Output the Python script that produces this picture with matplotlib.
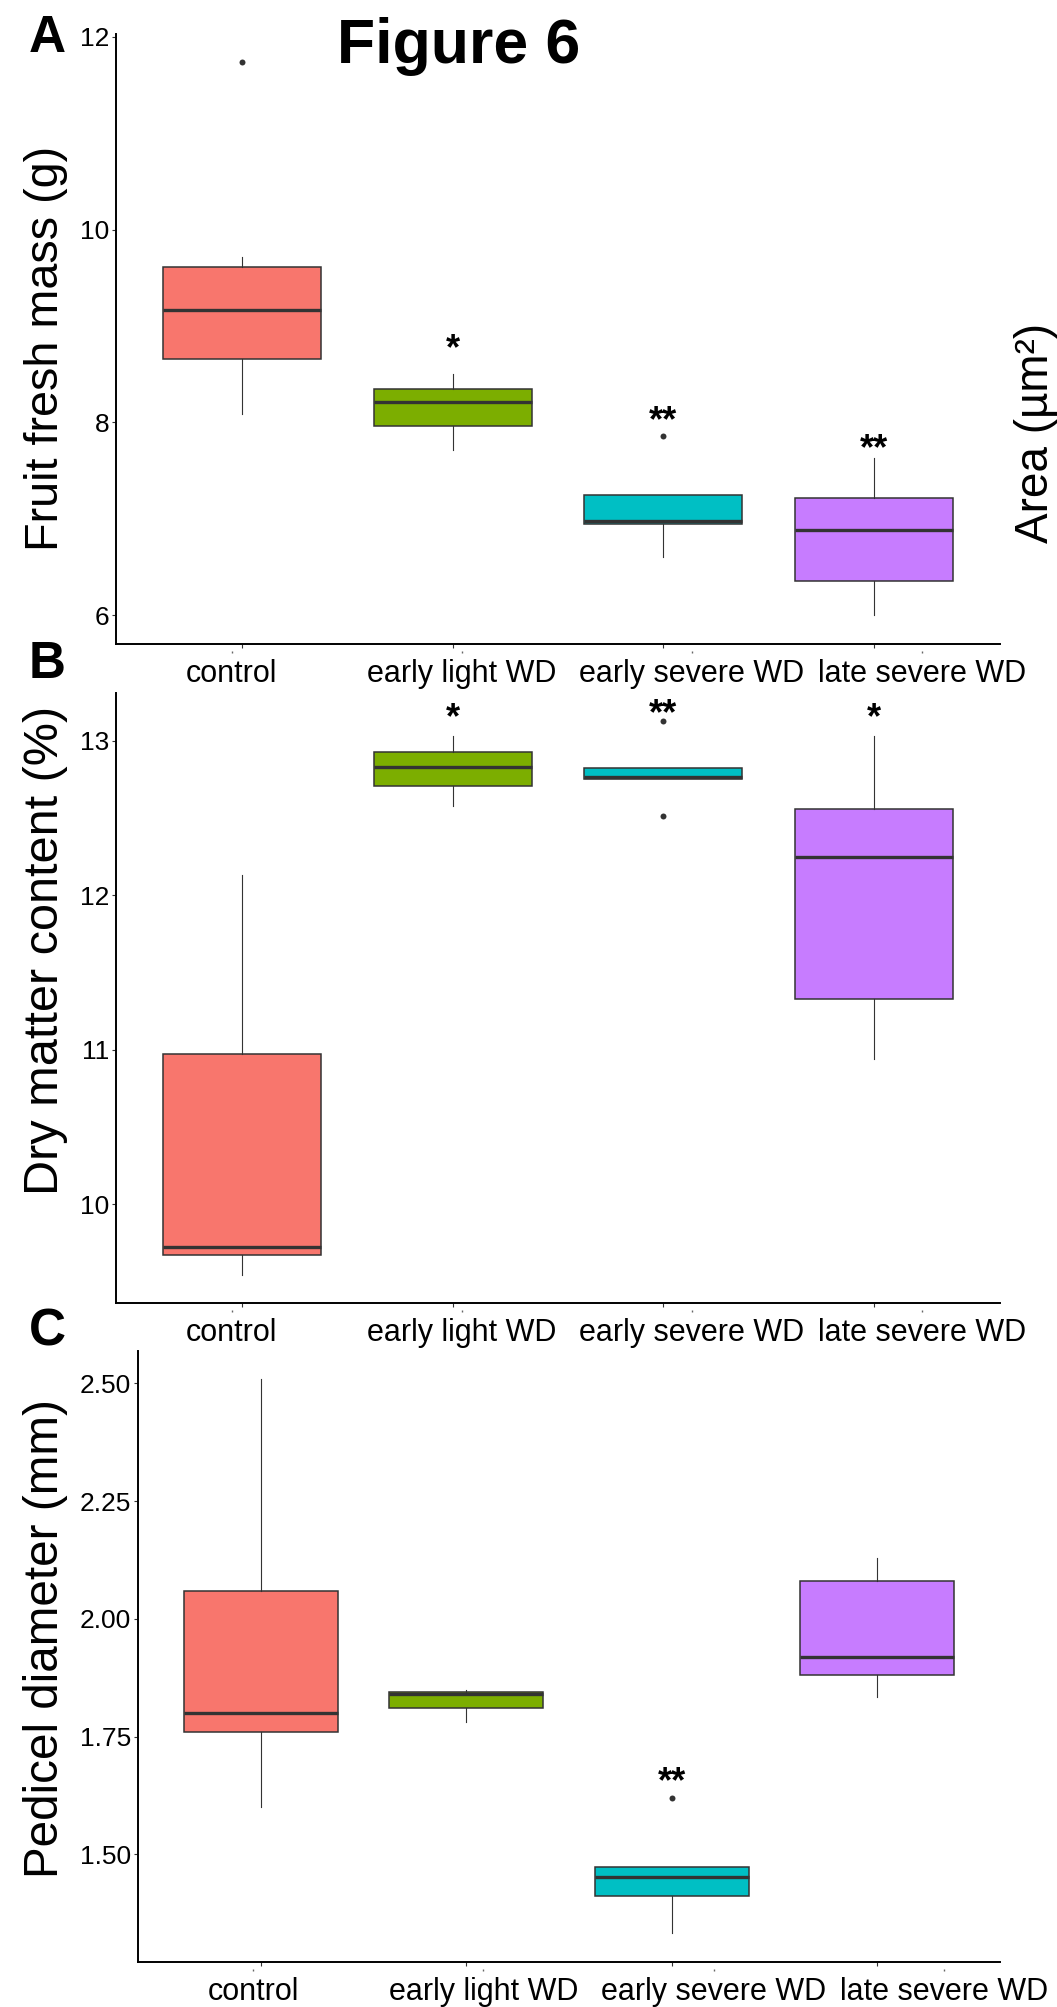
import matplotlib
matplotlib.use("Agg")
import matplotlib.pyplot as plt
from matplotlib.ticker import FormatStrFormatter

plt.rcParams['font.family'] = ['Liberation Sans', 'DejaVu Sans']

# ---------------- data ----------------
categories = ["control", "early light WD", "early severe WD", "late severe WD"]
colors = ["#F8766D", "#7CAE00", "#00BFC4", "#C77CFF"]

# Panel A: fruit fresh mass (g)
a_whislo = [8.09, 7.71, 6.60, 6.00]
a_q1     = [8.66, 7.96, 6.95, 6.35]
a_med    = [9.17, 8.21, 6.98, 6.88]
a_q3     = [9.61, 8.35, 7.25, 7.21]
a_whishi = [9.72, 8.50, 7.25, 7.63]
a_fliers = [[11.74], [], [7.86], []]
a_sig_text = ["", "*", "**", "**"]
a_sig_y    = [None, 8.87, 8.12, 7.83]
a_ticks = [6, 8, 10, 12]
a_ylim = (5.70, 12.03)

# Panel B: dry matter content (%)
b_whislo = [9.54, 12.58, 12.754, 10.94]
b_q1     = [9.67, 12.71, 12.754, 11.33]
b_med    = [9.72, 12.83, 12.767, 12.25]
b_q3     = [10.97, 12.93, 12.825, 12.56]
b_whishi = [12.13, 13.03, 12.825, 13.03]
b_fliers = [[], [], [13.13, 12.514], []]
b_sig_text = ["", "*", "**", "*"]
b_sig_y    = [None, 13.22, 13.245, 13.22]
b_ticks = [10, 11, 12, 13]
b_ylim = (9.36, 13.31)

# Panel C: pedicel diameter (mm)
c_whislo = [1.60, 1.78, 1.333, 1.833]
c_q1     = [1.76, 1.81, 1.411, 1.881]
c_med    = [1.80, 1.84, 1.452, 1.92]
c_q3     = [2.06, 1.845, 1.472, 2.08]
c_whishi = [2.509, 1.849, 1.472, 2.13]
c_fliers = [[], [], [1.62], []]
c_sig_text = ["", "", "**", ""]
c_sig_y    = [None, None, 1.675, None]
c_ticks = [1.50, 1.75, 2.00, 2.25, 2.50]
c_ylim = (1.271, 2.569)

# ---------------- layout helpers ----------------
W, H = 1057, 2007
fig = plt.figure(figsize=(W / 100, H / 100), dpi=100)


def rect(left, right, top, bottom):
    return [left / W, 1 - bottom / H, (right - left) / W, (bottom - top) / H]


def panel(r, whislo, q1, med, q3, whishi, fliers, sig_text, sig_y, ticks, ylim,
          ylabel, label_ypx, label_size, lab_xlim, fmt=None):
    ax = fig.add_axes(r)
    stats = []
    for i in range(len(categories)):
        stats.append(dict(whislo=whislo[i], q1=q1[i], med=med[i], q3=q3[i],
                          whishi=whishi[i], fliers=fliers[i]))
    pos = list(range(1, len(categories) + 1))
    bp = ax.bxp(stats, positions=pos, widths=0.75, patch_artist=True,
                showcaps=False,
                boxprops=dict(edgecolor="#333333", linewidth=1.1),
                medianprops=dict(color="#333333", linewidth=2.4, solid_capstyle='butt'),
                whiskerprops=dict(color="#333333", linewidth=0.8),
                flierprops=dict(marker='o', markersize=4.3, markerfacecolor="#333333",
                                markeredgecolor="none"))
    for patch, c in zip(bp['boxes'], colors):
        patch.set_facecolor(c)
    for i, (t, y) in enumerate(zip(sig_text, sig_y)):
        if t:
            ax.annotate(t, xy=(pos[i], y), xytext=(0, -15), textcoords='offset points',
                        ha='center', va='baseline', fontsize=26, fontweight='bold',
                        color='black')
    ax.set_xlim(0.4, 4.6)
    ax.set_ylim(*ylim)
    ax.set_yticks(ticks)
    if fmt:
        ax.yaxis.set_major_formatter(FormatStrFormatter(fmt))
    ax.set_xticks(pos)
    ax.set_xticklabels([])
    for s in ['top', 'right']:
        ax.spines[s].set_visible(False)
    for s in ['left', 'bottom']:
        ax.spines[s].set_linewidth(1.4)
        ax.spines[s].set_color('black')
    ax.tick_params(axis='y', length=3, width=0.8, color='#333333', labelsize=19,
                   labelcolor='black', pad=2)
    ax.tick_params(axis='x', length=3, width=0.8, color='#333333')
    # y label
    bb = ax.get_position()
    xlab_px = 68
    lx = (xlab_px / W - bb.x0) / bb.width
    ly = ((1 - label_ypx / H) - bb.y0) / bb.height
    ax.set_ylabel(ylabel, fontsize=label_size)
    ax.yaxis.set_label_coords(lx, ly)
    # category labels (from the underlying composite axis)
    ax2 = ax.twiny()
    ax2.set_xlim(*lab_xlim)
    ax2.xaxis.set_ticks_position('bottom')
    ax2.xaxis.set_label_position('bottom')
    for s in ['top', 'right', 'left']:
        ax2.spines[s].set_visible(False)
    ax2.spines['bottom'].set_position(('outward', 5))
    ax2.spines['bottom'].set_visible(False)
    ax2.set_xticks(pos)
    ax2.set_xticklabels(categories)
    ax2.tick_params(axis='x', length=1.5, width=1.0, color='#666666', labelsize=22,
                    labelcolor='black', pad=4)
    return ax


panel(rect(116, 1000, 34, 644), a_whislo, a_q1, a_med, a_q3, a_whishi, a_fliers,
      a_sig_text, a_sig_y, a_ticks, a_ylim, "Fruit fresh mass (g)", 348, 33.7,
      (0.496, 4.339))
panel(rect(116, 1000, 693, 1303), b_whislo, b_q1, b_med, b_q3, b_whishi, b_fliers,
      b_sig_text, b_sig_y, b_ticks, b_ylim, "Dry matter content (%)", 950, 35,
      (0.496, 4.339))
panel(rect(138, 1000, 1351, 1962), c_whislo, c_q1, c_med, c_q3, c_whishi, c_fliers,
      c_sig_text, c_sig_y, c_ticks, c_ylim, "Pedicel diameter (mm)", 1638, 34.3,
      (0.5007, 4.243), fmt='%.2f')

# panel letters and title
fig.text(47 / W, 1 - 38 / H, "A", fontsize=37, fontweight='bold', ha='center', va='center')
fig.text(47 / W, 1 - 664 / H, "B", fontsize=37, fontweight='bold', ha='center', va='center')
fig.text(47 / W, 1 - 1332 / H, "C", fontsize=37, fontweight='bold', ha='center', va='center')
fig.text(459 / W, 1 - 46 / H, "Figure 6", fontsize=45, fontweight='bold', ha='center', va='center')
fig.text(1014 / W, 1 - 433 / H, "Area (µm²)", fontsize=33, rotation=90,
         ha='left', va='center')

fig.savefig("out.png", dpi=100, facecolor='white')
